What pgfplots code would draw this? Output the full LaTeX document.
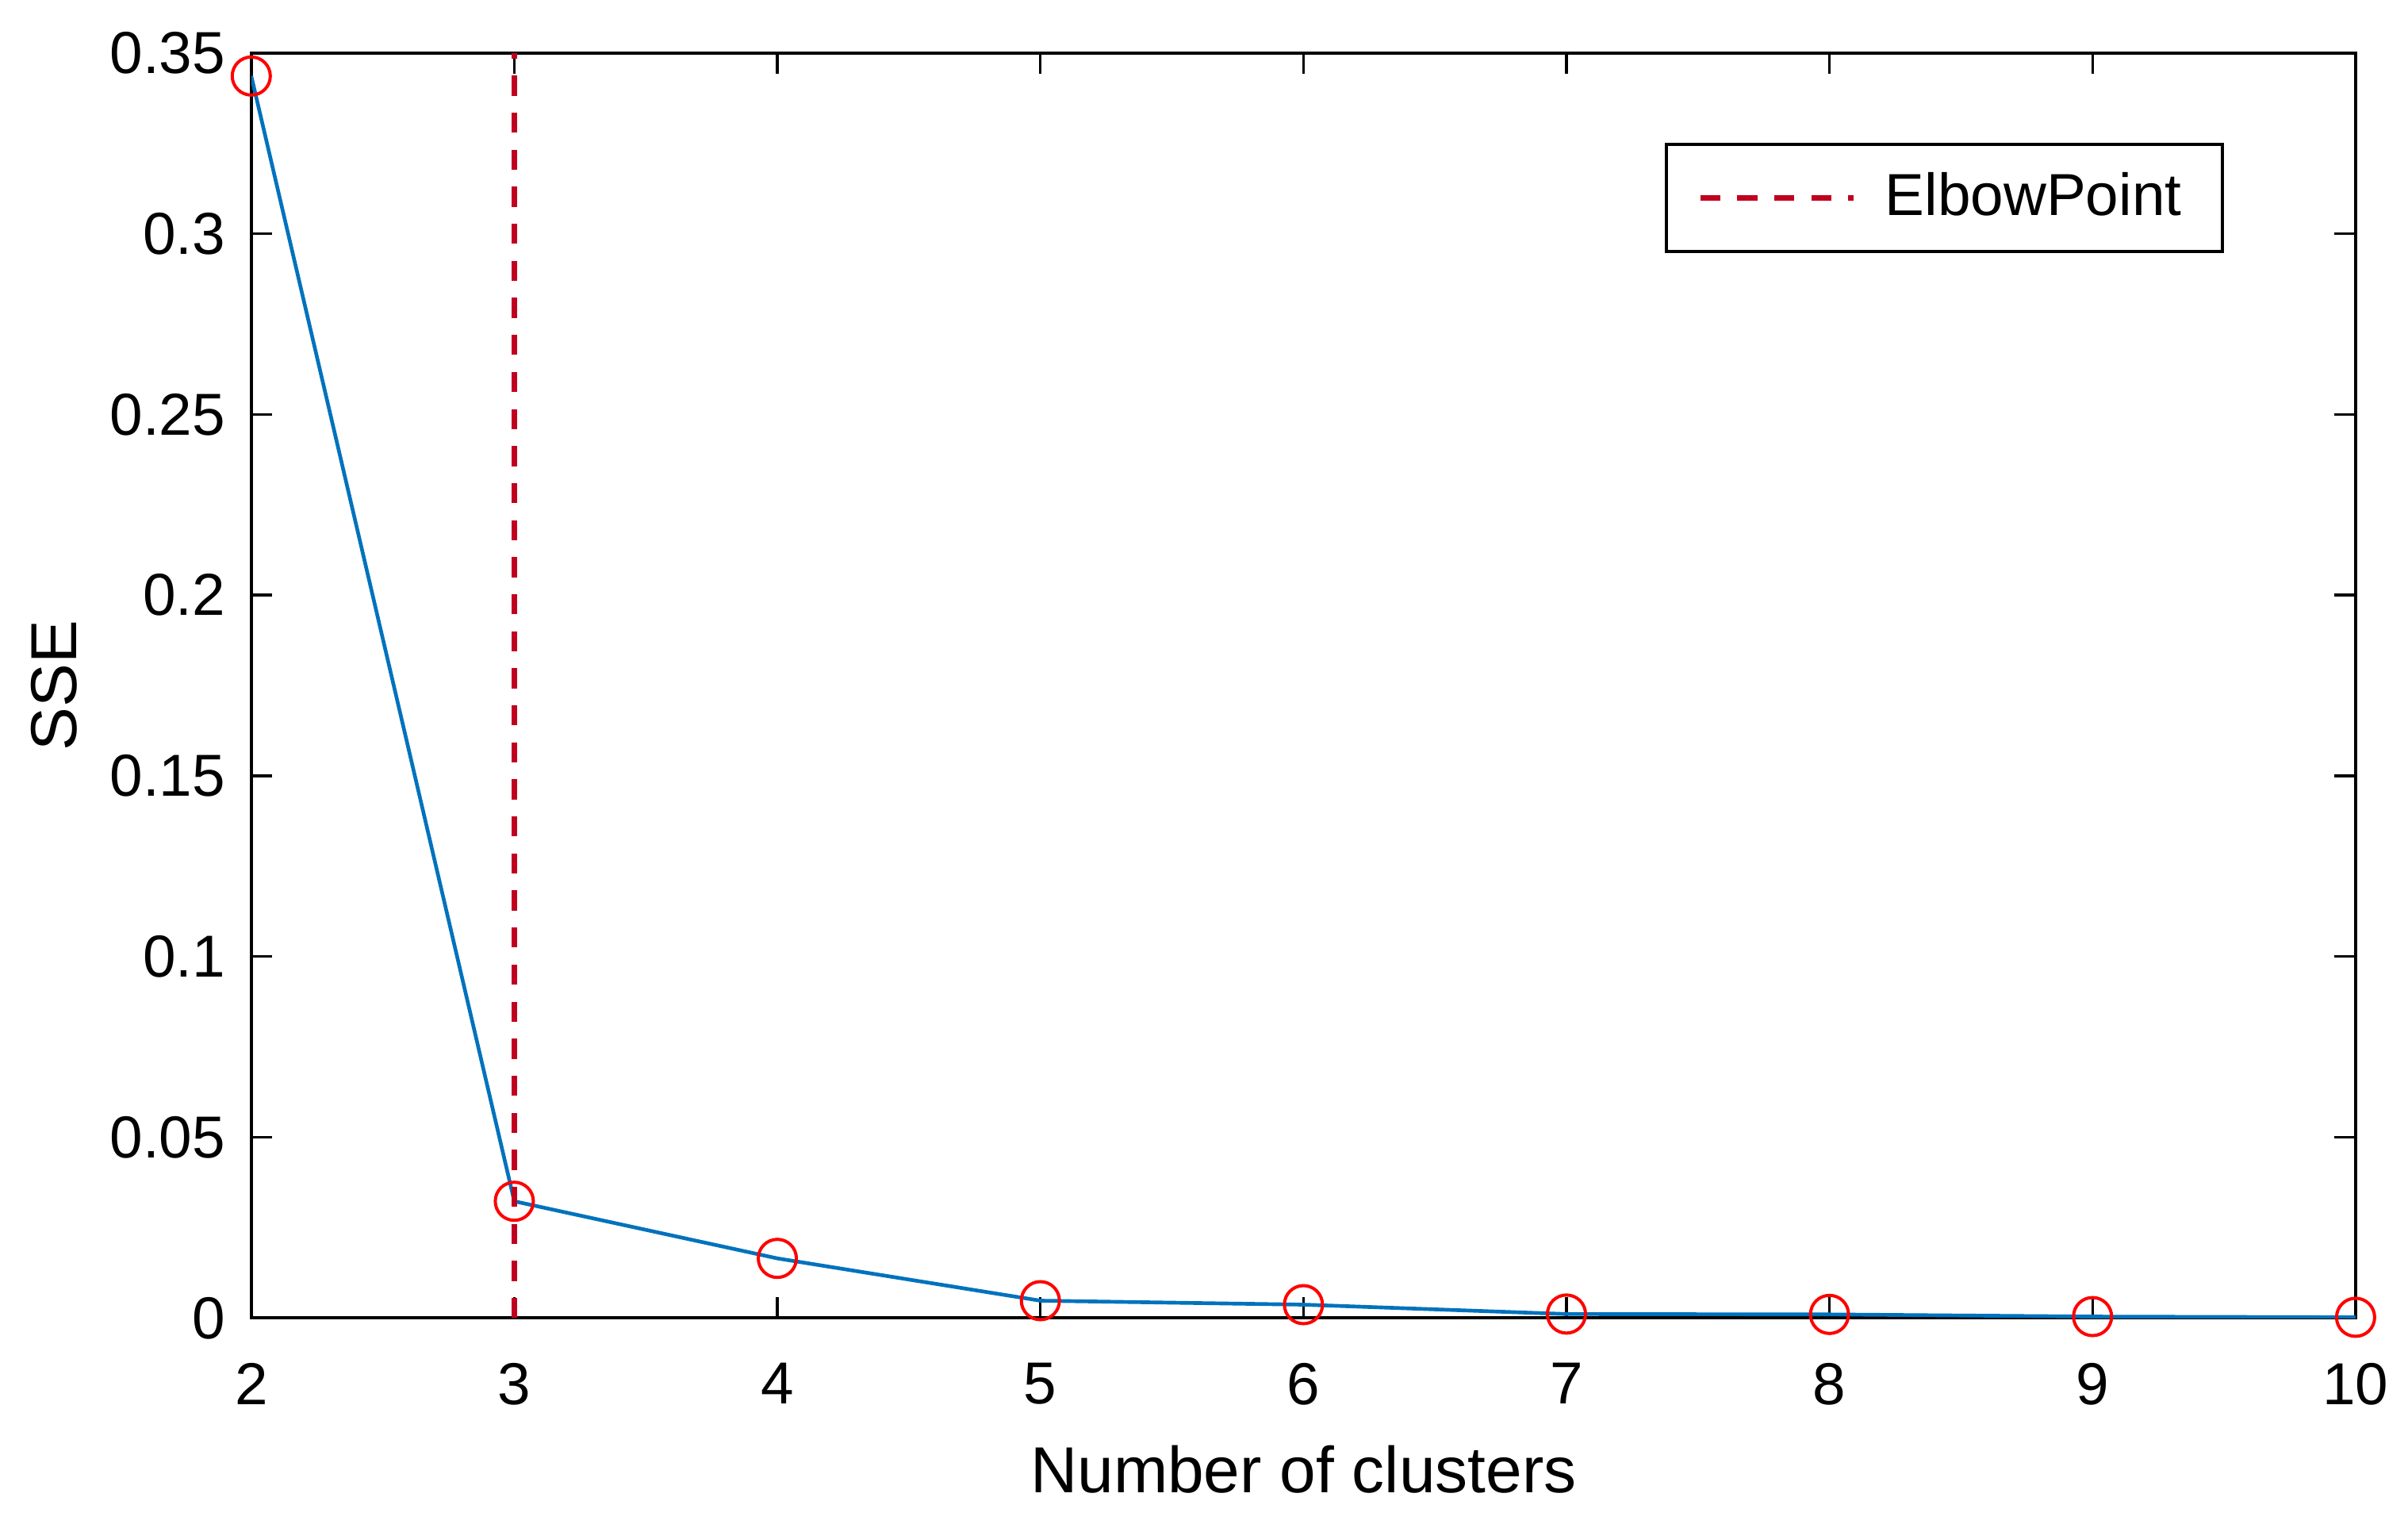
\documentclass[border=0pt]{standalone}
\usepackage{pgfplots}
\pgfplotsset{compat=1.18}
\usepackage{fontspec}
\setmainfont{Liberation Sans}
\definecolor{mblue}{RGB}{0,114,189}
\definecolor{mred}{RGB}{255,0,0}
\definecolor{edark}{RGB}{192,0,30}
\begin{document}
\begin{tikzpicture}
\useasboundingbox (-47.5pt,-38.8pt) rectangle (407.7pt,249.1pt);
\begin{axis}[
  scale only axis=true,
  width=397.8pt, height=239.1pt,
  xmin=2, xmax=10, ymin=0, ymax=0.35,
  xtick={2,3,4,5,6,7,8,9,10},
  ytick={0,0.05,0.1,0.15,0.2,0.25,0.3,0.35},
  yticklabels={0,0.05,0.1,0.15,0.2,0.25,0.3,0.35},
  scaled y ticks=false,
  tick align=inside,
  major tick length=4pt,
  axis line style={line width=0.6pt},
  every tick/.style={black, line width=0.5pt},
  /pgf/number format/assume math mode=true,
  ticklabel style={font=\fontsize{11.2}{13}\selectfont},
  xticklabel style={yshift=-5pt},
  yticklabel style={xshift=-1.4pt},
  label style={font=\fontsize{12.3}{14}\selectfont},
  xlabel={Number of clusters},
  ylabel={SSE},
  xlabel style={at={(axis description cs:0.5,-0.138)}, anchor=base},
  ylabel style={at={(axis description cs:-0.0832,0.5)}, anchor=base},
  legend cell align=left,
  legend style={at={(0.9374,0.929)}, anchor=north east, draw=black, line width=0.6pt,
    font=\fontsize{11.2}{13}\selectfont, inner xsep=2.3pt, inner ysep=3.3pt,
    nodes={inner xsep=5.4pt}},
  legend image code/.code={\path (0pt,0pt); \draw[#1] (3.5pt,0pt) -- (32.5pt,0pt);},
]
\addplot[mblue, line width=0.7pt, forget plot] coordinates {
 (2,0.3436) (3,0.0323) (4,0.0165) (5,0.0048) (6,0.0037) (7,0.0011) (8,0.0010) (9,0.0004) (10,0.0002)};
\addplot[only marks, mark=o, mark size=3.6pt, mred, mark options={line width=0.6pt}, forget plot] coordinates {
 (2,0.3436) (3,0.0323) (4,0.0165) (5,0.0048) (6,0.0037) (7,0.0011) (8,0.0010) (9,0.0004) (10,0.0002)};
\addplot[edark, line width=1.1pt, dash pattern=on 3.8pt off 3.2pt] coordinates {(3,0) (3,0.35)};
\addlegendentry{ElbowPoint}
\end{axis}
\end{tikzpicture}
\end{document}
